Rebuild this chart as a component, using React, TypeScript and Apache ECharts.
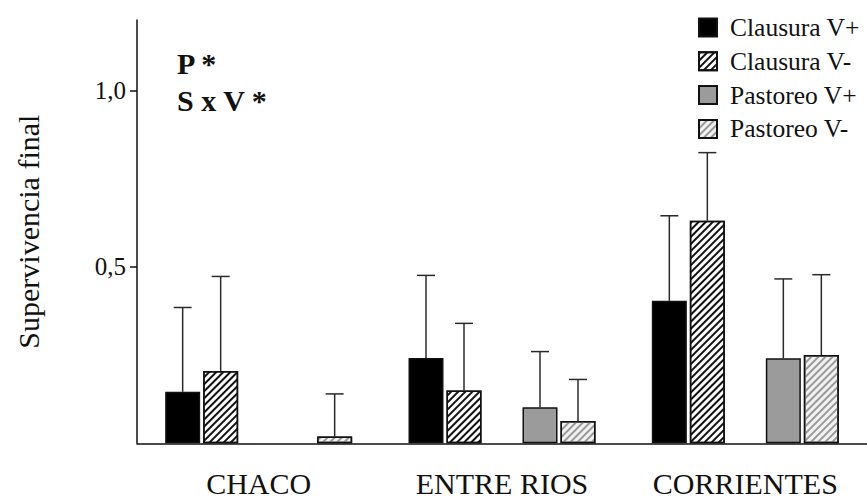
import React, { useEffect, useRef } from "react";
import * as echarts from "echarts";

const categories = ["CHACO", "ENTRE RIOS", "CORRIENTES"];
const seriesNames = ["Clausura V+", "Clausura V-", "Pastoreo V+", "Pastoreo V-"];
const clausuraVPlus = [0.146, 0.242, 0.404];
const clausuraVPlusErr = [0.239, 0.234, 0.241];
const clausuraVMinus = [0.205, 0.15, 0.631];
const clausuraVMinusErr = [0.268, 0.19, 0.193];
const pastoreoVPlus = [0, 0.102, 0.241];
const pastoreoVPlusErr = [0, 0.158, 0.225];
const pastoreoVMinus = [0.019, 0.063, 0.25];
const pastoreoVMinusErr = [0.121, 0.118, 0.228];
const yTicks = [0.5, 1.0];
const annotations = ["P *", "S x V *"];

const FONT = "'Liberation Serif', 'Times New Roman', serif";
const BAR_W = 35;
const BAR_GAP = 3;
const SLOT = BAR_W + BAR_GAP;

export default function App() {
  const ref = useRef<HTMLDivElement>(null);
  useEffect(() => {
    if (!ref.current) return;
    const chart = echarts.init(ref.current, null, { renderer: "svg" });

    const means = [clausuraVPlus, clausuraVMinus, pastoreoVPlus, pastoreoVMinus];
    const errs = [clausuraVPlusErr, clausuraVMinusErr, pastoreoVPlusErr, pastoreoVMinusErr];
    const slots = [0, 1, 3, 4];
    const errData: number[][] = [];
    means.forEach((m, s) => {
      m.forEach((v, c) => {
        if (errs[s][c] > 0) errData.push([c, v, errs[s][c], slots[s]]);
      });
    });

    const border = { borderColor: "#111", borderWidth: 1.5 };
    const hatch = (color: string) => ({
      symbol: "rect",
      symbolSize: 1,
      dashArrayX: [1, 0],
      dashArrayY: [1.3, 2.5],
      rotation: -Math.PI / 4,
      color,
    });
    const barData = (arr: number[]) =>
      arr.map((v) => (v === 0 ? { value: v, itemStyle: { borderWidth: 0 } } : v));

    const barCommon = {
      type: "bar",
      barWidth: BAR_W,
      barGap: (BAR_GAP / BAR_W) * 100 + "%",
      barCategoryGap: "20%",
    };

    chart.setOption({
      animation: false,
      backgroundColor: "#fff",
      textStyle: { fontFamily: FONT },
      grid: { left: 137, right: -10, top: 20, bottom: 57.7, containLabel: false },
      legend: {
        data: seriesNames,
        orient: "vertical",
        left: 693,
        top: 9.5,
        itemWidth: 18,
        itemHeight: 18,
        itemGap: 7.8,
        icon: "rect",
        textStyle: { fontFamily: FONT, fontSize: 25.5, color: "#111", lineHeight: 25.5, padding: [0, 0, 0, 8] },
      },
      xAxis: {
        type: "category",
        data: categories,
        boundaryGap: true,
        axisLine: { lineStyle: { color: "#111", width: 1.5 } },
        axisTick: { alignWithLabel: true, length: 7, lineStyle: { color: "#111", width: 1.5 } },
        axisLabel: { interval: 0, fontFamily: FONT, fontSize: 30, lineHeight: 26, color: "#111", margin: 27 },
      },
      yAxis: {
        type: "value",
        min: 0,
        max: 1.2,
        name: "Supervivencia final",
        nameLocation: "middle",
        nameGap: 94,
        nameTextStyle: { fontFamily: FONT, fontSize: 30, color: "#111" },
        splitLine: { show: false },
        axisLine: { show: true, lineStyle: { color: "#111", width: 1.5 } },
        axisTick: { show: true, length: 7, customValues: yTicks, lineStyle: { color: "#111", width: 1.5 } },
        axisLabel: {
          customValues: yTicks,
          fontFamily: FONT,
          fontSize: 25,
          color: "#111",
          margin: 11,
          formatter: (v: number) => v.toFixed(1).replace(".", ","),
        },
      },
      graphic: annotations.map((t, i) => ({
        type: "text",
        left: 177,
        top: 48 + i * 37,
        style: { text: t, font: `bold 30px ${FONT}`, fill: "#111" },
      })),
      series: [
        { ...barCommon, name: seriesNames[0], data: barData(clausuraVPlus), itemStyle: { color: "#000", ...border } },
        { ...barCommon, name: seriesNames[1], data: barData(clausuraVMinus), itemStyle: { color: "#fff", ...border, decal: hatch("#111") } },
        { ...barCommon, name: "_gap", data: categories.map(() => null), itemStyle: { color: "transparent" } },
        { ...barCommon, name: seriesNames[2], data: barData(pastoreoVPlus), itemStyle: { color: "#9b9b9b", ...border } },
        { ...barCommon, name: seriesNames[3], data: barData(pastoreoVMinus), itemStyle: { color: "#f2f2f2", ...border, decal: hatch("#9a9a9a") } },
        {
          type: "custom",
          name: "err",
          data: errData,
          encode: { x: 0, y: 1 },
          z: 1,
          renderItem: (params: any, api: any) => {
            const c = api.value(0);
            const m = api.value(1);
            const e = api.value(2);
            const slot = api.value(3);
            const base = api.coord([c, m]);
            const top = api.coord([c, m + e]);
            const x = base[0] + (slot - 2) * SLOT;
            const st = { stroke: "#2a2a2a", lineWidth: 1.5 };
            return {
              type: "group",
              children: [
                { type: "line", shape: { x1: x, y1: base[1], x2: x, y2: top[1] }, style: st },
                { type: "line", shape: { x1: x - 9, y1: top[1], x2: x + 9, y2: top[1] }, style: st },
              ],
            };
          },
        },
      ],
    });
    return () => chart.dispose();
  }, []);
  return <div ref={ref} style={{ width: 867, height: 501, position: "absolute", left: 0, top: 0 }} />;
}
